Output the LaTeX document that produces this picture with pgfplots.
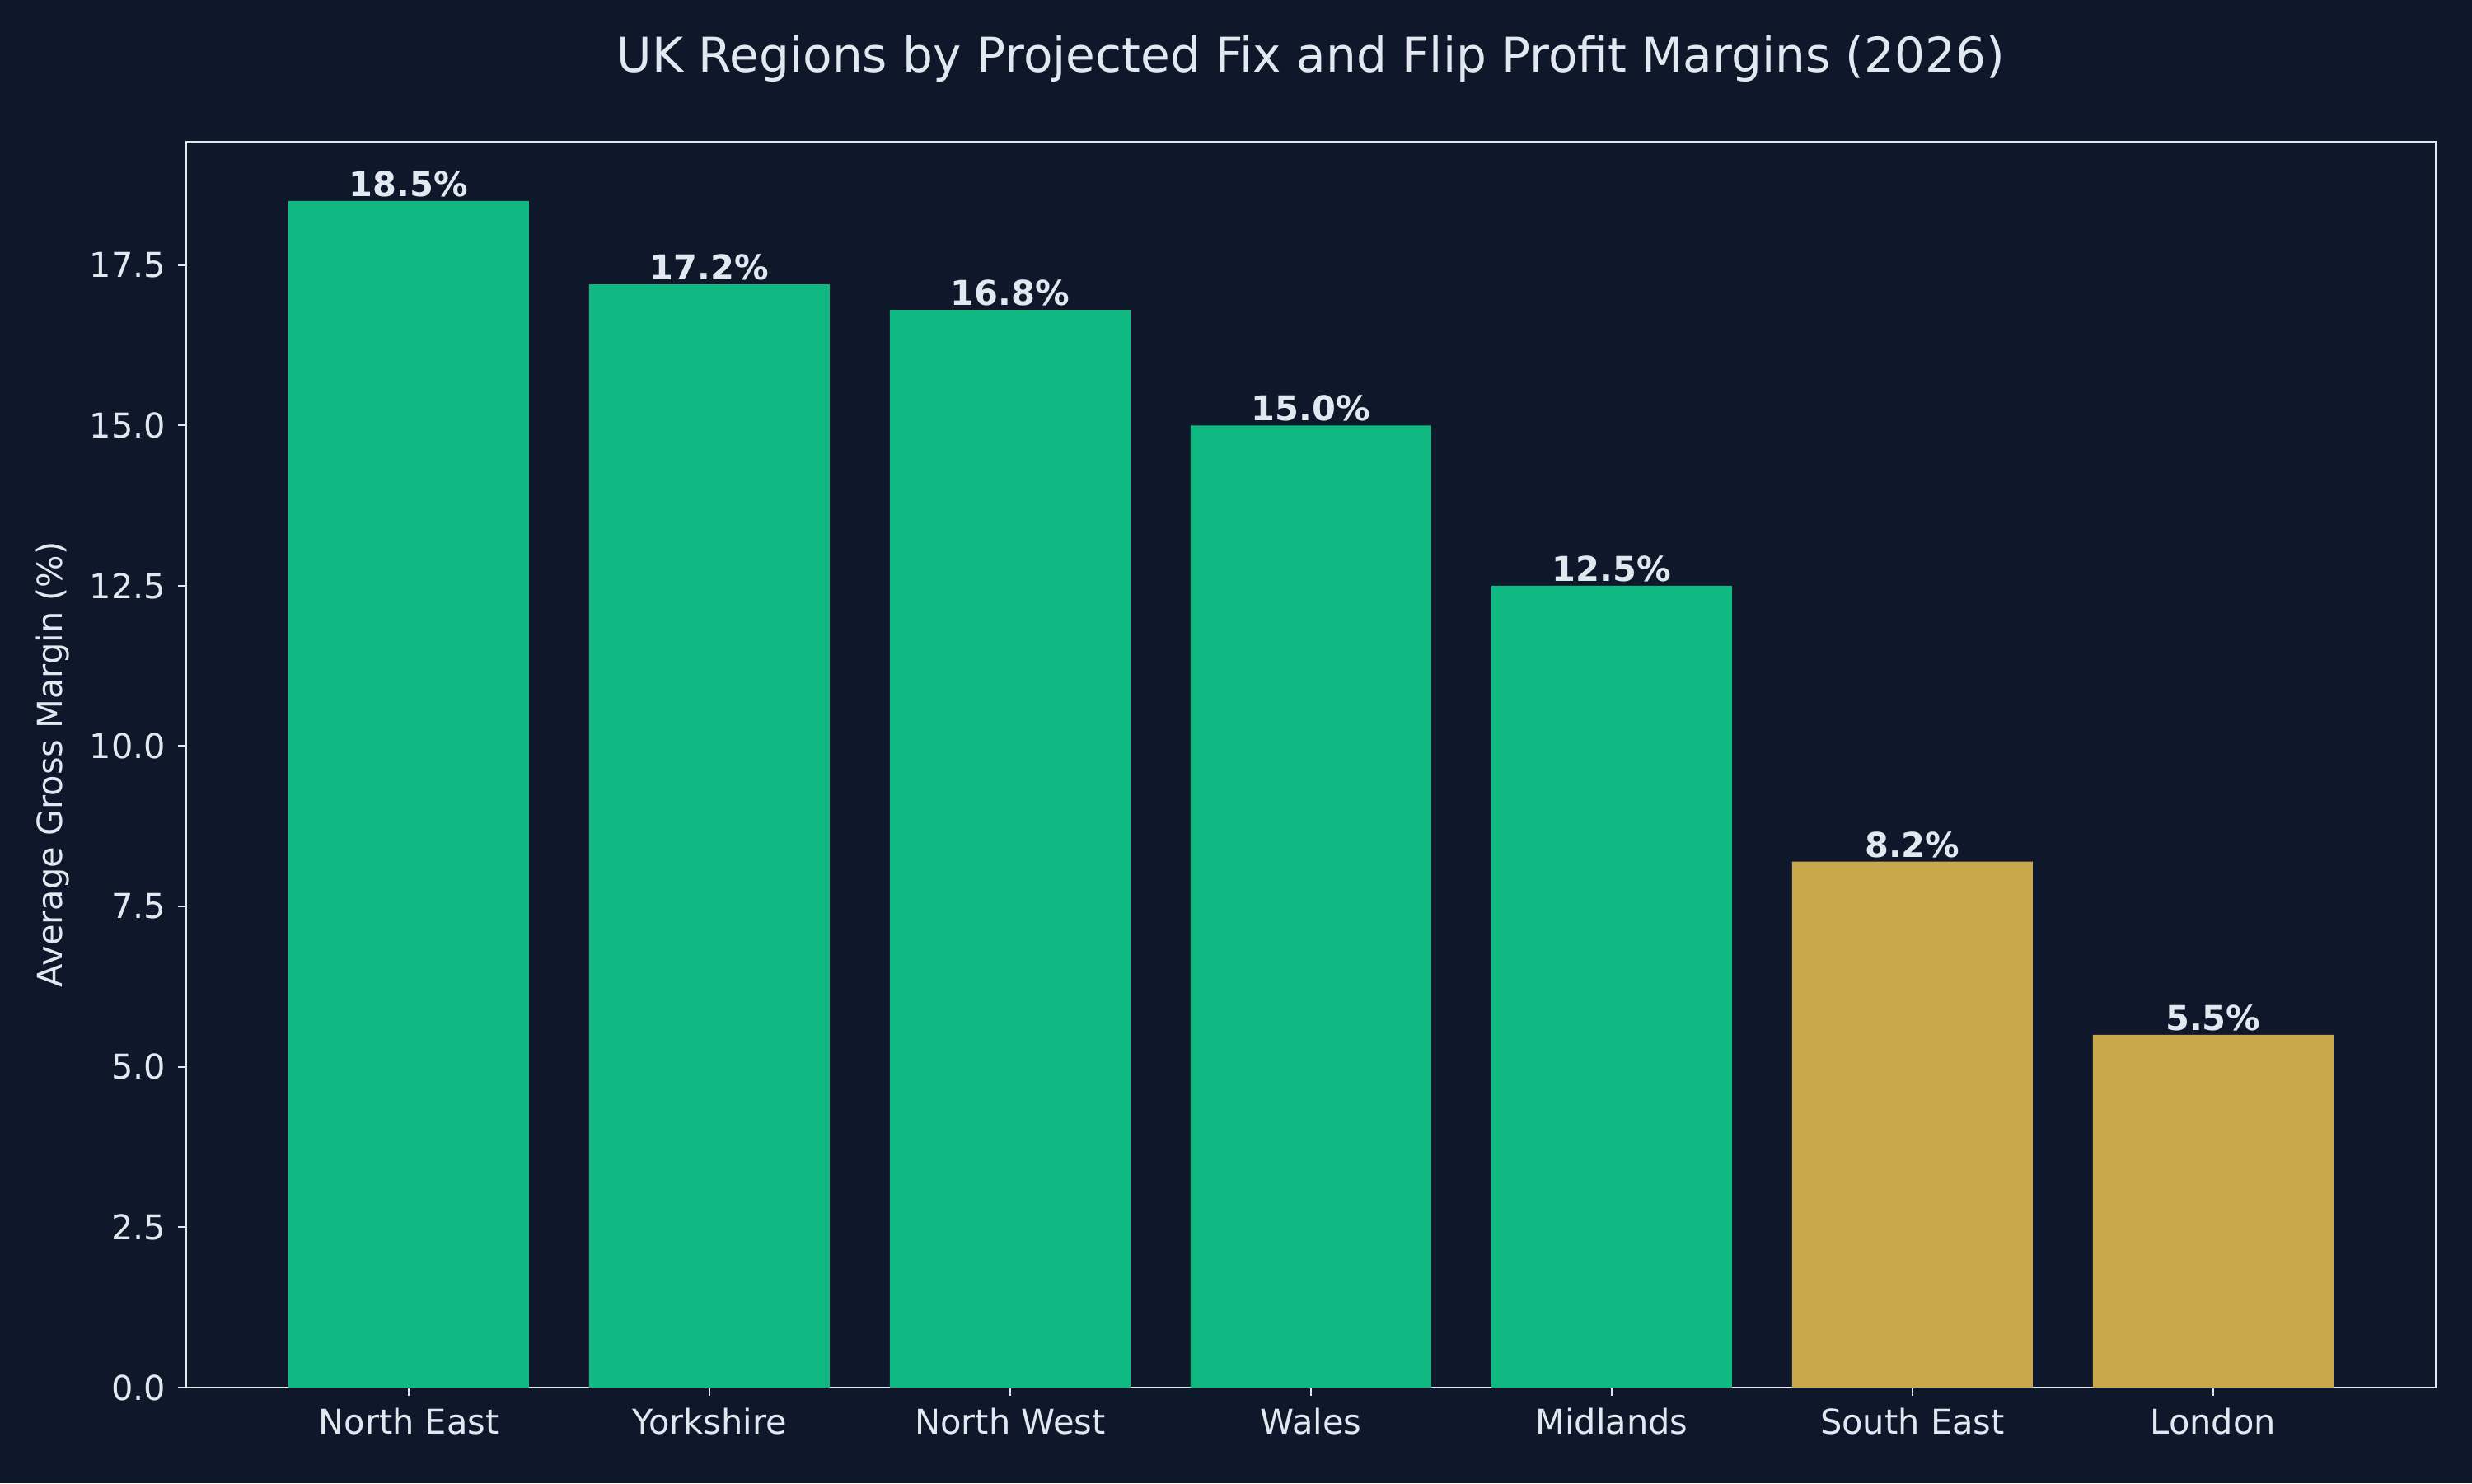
\documentclass[border=0pt]{standalone}
\usepackage{pgfplots}
\pgfplotsset{compat=1.18}
\usepackage{fontspec}
\setmainfont{DejaVu Sans}
\definecolor{bg}{HTML}{0F172A}
\definecolor{fg}{HTML}{E2E8F0}
\definecolor{grn}{HTML}{10B981}
\definecolor{gold}{HTML}{C9A84C}
\begin{document}
\begin{tikzpicture}
\fill[bg] (-0.753in,-0.387in) rectangle (9.247in,5.613in);
\begin{axis}[
  scale only axis, width=9.1in, height=5.04in,
  xmin=-0.74, xmax=6.74, ymin=0, ymax=19.425,
  xtick={0,1,2,3,4,5,6},
  xticklabels={North East,Yorkshire,North West,Wales,Midlands,South East,London},
  ytick={0,2.5,5,7.5,10,12.5,15,17.5},
  yticklabel style={/pgf/number format/.cd, fixed, fixed zerofill, precision=1},
  /pgf/number format/assume math mode=true,
  tick align=outside, major tick length=2.4pt, tick pos=left,
  axis line style={fg, line width=0.5pt},
  tick style={fg, line width=0.5pt},
  ticklabel style={font=\fontsize{10}{12}\selectfont, text=fg},
  ylabel={Average Gross Margin (\%)},
  every axis y label/.append style={at={(axis description cs:-0.0593,0.5)}, anchor=center, font=\fontsize{10}{12}\selectfont, text=fg},
  title={UK Regions by Projected Fix and Flip Profit Margins (2026)},
  every axis title/.style={at={(axis description cs:0.5,1)}, anchor=center, yshift=24.2pt, font=\fontsize{14}{16}\selectfont, text=fg},
  ybar, bar width=0.8, bar shift=0pt,
  nodes near coords={\pgfmathprintnumber[fixed,fixed zerofill,precision=1]{\pgfplotspointmeta}\%},
  every node near coord/.append style={font=\bfseries\fontsize{10}{12}\selectfont, text=fg, anchor=south, inner sep=1pt},
]
\addplot[fill=grn, draw=none] coordinates {(0,18.5) (1,17.2) (2,16.8) (3,15.0) (4,12.5)};
\addplot[fill=gold, draw=none] coordinates {(5,8.2) (6,5.5)};
\end{axis}
\end{tikzpicture}
\end{document}
